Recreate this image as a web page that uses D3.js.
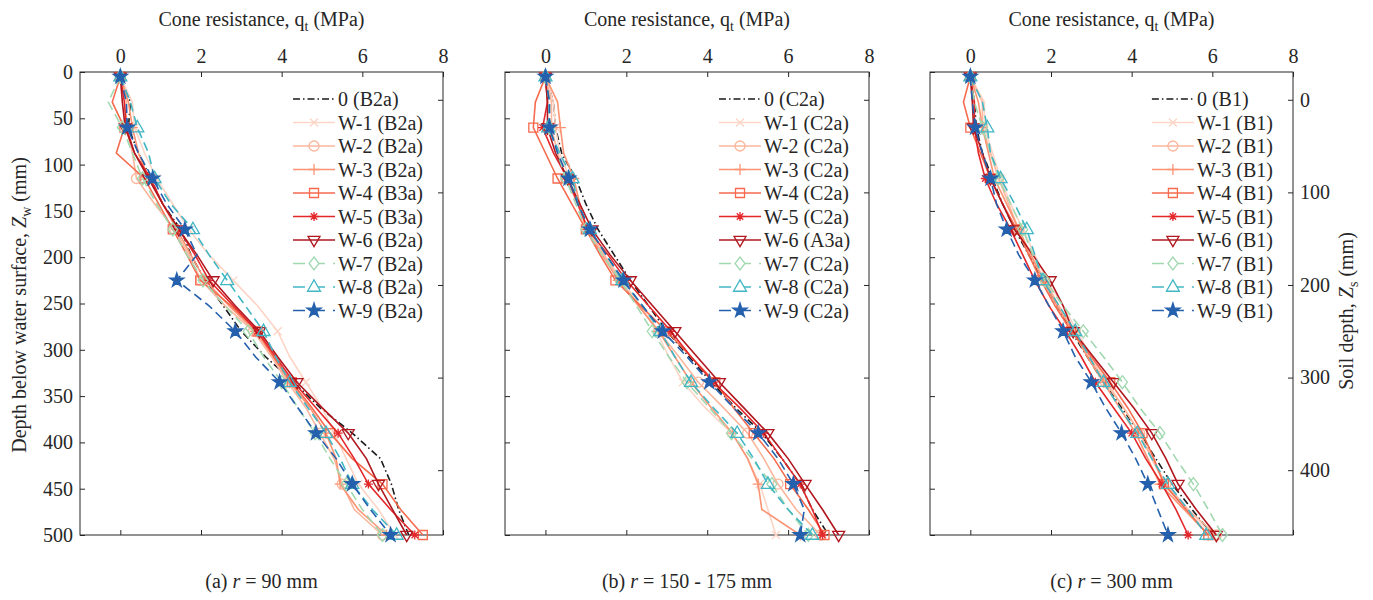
<!DOCTYPE html>
<html>
<head>
<meta charset="utf-8">
<script src="https://cdn.jsdelivr.net/npm/d3@7"></script>
<style>
  body { margin: 0; background: #fff; }
  svg text { font-family: "Liberation Serif", "Times New Roman", serif !important; fill: #262626; }
</style>
</head>
<body>
<svg id="chart" width="1373" height="600"></svg>
<script>
// depth below water surface (mm) at which each profile was read
const depths = [5, 32.5, 60, 87.5, 115, 142.5, 170, 197.5, 225, 252.5, 280, 307.5, 335, 362.5, 390, 417.5, 445, 472.5, 500];

const seriesKeys = ["0", "W-1", "W-2", "W-3", "W-4", "W-5", "W-6", "W-7", "W-8", "W-9"];
const tagsA = ["B2a", "B2a", "B2a", "B2a", "B3a", "B3a", "B2a", "B2a", "B2a", "B2a"];
const tagsB = ["C2a", "C2a", "C2a", "C2a", "C2a", "C2a", "A3a", "C2a", "C2a", "C2a"];
const tagsC = ["B1", "B1", "B1", "B1", "B1", "B1", "B1", "B1", "B1", "B1"];

// cone resistance q_t (MPa), one row per series, r = 90 mm
const qA = [
  [0, 0.25, 0.2, 0.45, 0.75, 1.05, 1.5, 1.75, 2.1, 2.55, 3.0, 3.6, 4.3, 4.95, 5.75, 6.45, 6.72, 6.9, 7.15],
  [0, 0.3, 0.35, 0.6, 0.9, 1.3, 1.7, 2.2, 2.8, 3.4, 3.9, 4.2, 4.6, 5.0, 5.3, 5.6, 5.9, 6.4, 6.8],
  [0, 0.15, 0.15, 0.3, 0.4, 0.85, 1.35, 1.7, 2.0, 2.6, 3.3, 3.75, 4.15, 4.6, 4.95, 5.3, 5.5, 5.8, 6.5],
  [0, 0.2, 0.3, 0.45, 0.7, 1.05, 1.4, 1.75, 2.1, 2.7, 3.35, 3.8, 4.2, 4.7, 5.1, 5.35, 5.45, 5.9, 6.6],
  [0, -0.2, 0.1, -0.1, 0.6, 0.95, 1.3, 1.65, 1.98, 2.75, 3.4, 3.8, 4.25, 4.75, 5.2, 5.75, 6.5, 6.95, 7.5],
  [0, 0.1, 0.15, 0.35, 0.75, 1.05, 1.45, 1.85, 2.2, 2.8, 3.4, 3.85, 4.3, 4.85, 5.4, 5.8, 6.15, 6.7, 7.3],
  [0, 0.05, 0.12, 0.35, 0.7, 1.05, 1.45, 1.9, 2.3, 2.85, 3.45, 3.9, 4.38, 5.0, 5.65, 6.1, 6.4, 6.75, 7.1],
  [0, -0.3, 0.05, 0.3, 0.55, 0.9, 1.3, 1.65, 2.05, 2.6, 3.17, 3.55, 4.0, 4.4, 4.83, 5.2, 5.6, 6.0, 6.5],
  [0, 0.25, 0.42, 0.7, 0.85, 1.25, 1.8, 2.2, 2.65, 3.1, 3.55, 3.85, 4.2, 4.65, 5.1, 5.45, 5.75, 6.25, 6.85],
  [0, 0.15, 0.17, 0.45, 0.8, 1.15, 1.6, 1.9, 1.4, 2.2, 2.85, 3.35, 3.95, 4.4, 4.85, 5.35, 5.75, 6.2, 6.7]
];

// r = 150 - 175 mm
const qB = [
  [0, 0.2, 0.25, 0.4, 0.75, 1.0, 1.3, 1.7, 2.1, 2.55, 3.0, 3.55, 4.1, 4.7, 5.35, 5.85, 6.3, 6.6, 7.0],
  [0, 0.2, 0.25, 0.35, 0.6, 0.8, 1.0, 1.45, 1.9, 2.35, 2.75, 3.05, 3.4, 3.95, 4.6, 5.0, 5.3, 5.5, 5.7],
  [0, 0.15, 0.15, 0.3, 0.5, 0.8, 1.05, 1.45, 1.85, 2.3, 2.8, 3.3, 3.78, 4.4, 5.0, 5.4, 5.75, 6.2, 6.8],
  [0, 0.3, 0.37, 0.45, 0.7, 0.85, 1.0, 1.4, 1.8, 2.3, 2.8, 3.2, 3.6, 4.1, 4.62, 5.0, 5.26, 5.35, 6.3],
  [0, -0.25, -0.3, 0.0, 0.3, 0.65, 1.0, 1.35, 1.73, 2.35, 3.0, 3.6, 4.2, 4.65, 5.15, 5.65, 6.05, 6.5, 6.9],
  [0, 0.05, -0.07, 0.2, 0.55, 0.8, 1.05, 1.55, 2.0, 2.55, 3.1, 3.6, 4.15, 4.8, 5.4, 5.85, 6.3, 6.6, 6.85],
  [0, 0.05, 0.05, 0.25, 0.55, 0.85, 1.15, 1.6, 2.1, 2.65, 3.2, 3.75, 4.3, 4.9, 5.5, 6.0, 6.42, 6.85, 7.25],
  [0, 0.1, 0.1, 0.3, 0.5, 0.75, 1.0, 1.4, 1.85, 2.25, 2.64, 3.05, 3.5, 4.05, 4.6, 5.1, 5.6, 6.0, 6.5],
  [0, 0.1, 0.07, 0.35, 0.67, 0.8, 1.1, 1.5, 1.9, 2.4, 2.84, 3.2, 3.6, 4.15, 4.74, 5.15, 5.5, 6.0, 6.6],
  [0, 0.1, 0.1, 0.3, 0.57, 0.8, 1.1, 1.5, 1.93, 2.4, 2.9, 3.5, 4.05, 4.65, 5.26, 5.75, 6.13, 6.4, 6.3]
];

// r = 300 mm
const qC = [
  [0, 0.1, 0.15, 0.3, 0.55, 0.8, 1.1, 1.45, 1.8, 2.15, 2.5, 2.9, 3.3, 3.75, 4.2, 4.6, 5.0, 5.5, 6.0],
  [0, 0.35, 0.35, 0.55, 0.75, 1.0, 1.3, 1.6, 1.9, 2.3, 2.65, 3.0, 3.4, 3.8, 4.2, 4.5, 4.8, 5.4, 6.0],
  [0, 0.3, 0.3, 0.5, 0.7, 0.95, 1.2, 1.5, 1.85, 2.2, 2.6, 2.95, 3.35, 3.8, 4.2, 4.5, 4.85, 5.4, 6.1],
  [0, 0.2, 0.3, 0.45, 0.6, 0.9, 1.2, 1.5, 1.8, 2.15, 2.55, 2.9, 3.3, 3.7, 4.1, 4.4, 4.7, 5.3, 5.9],
  [0, -0.17, 0.0, 0.25, 0.5, 0.8, 1.15, 1.45, 1.75, 2.1, 2.5, 3.0, 3.47, 3.9, 4.27, 4.55, 4.8, 5.35, 5.9],
  [0, 0.1, 0.1, 0.2, 0.37, 0.65, 1.0, 1.3, 1.6, 1.95, 2.36, 2.75, 3.1, 3.55, 4.0, 4.35, 4.75, 5.1, 5.4],
  [0, 0.05, 0.08, 0.3, 0.5, 0.8, 1.1, 1.55, 1.98, 2.3, 2.55, 3.05, 3.55, 4.05, 4.5, 4.85, 5.15, 5.6, 6.1],
  [0, 0.1, 0.3, 0.5, 0.7, 1.0, 1.3, 1.55, 1.85, 2.3, 2.8, 3.3, 3.77, 4.2, 4.7, 5.1, 5.53, 5.9, 6.25],
  [0, 0.3, 0.42, 0.5, 0.75, 1.1, 1.4, 1.6, 1.8, 2.2, 2.6, 2.95, 3.3, 3.7, 4.14, 4.5, 4.9, 5.4, 5.85],
  [0, 0.05, 0.12, 0.3, 0.5, 0.65, 0.9, 1.2, 1.6, 1.95, 2.3, 2.6, 3.0, 3.35, 3.75, 4.1, 4.4, 4.65, 4.9]
];

const qTicks = [0, 2, 4, 6, 8];
const zwTicks = [0, 50, 100, 150, 200, 250, 300, 350, 400, 450, 500];
const zsTicks = [0, 100, 200, 300, 400];
const soilOffset = 30; // soil surface lies 30 mm below water surface
const captionsLetter = ["(a)", "(b)", "(c)"];
const captionsR = ["90 mm", "150 - 175 mm", "300 mm"];

// styles
const colors = ["#1a1a1a", "#fdd5c6", "#fcb69c", "#fc9474", "#f66a4e", "#e3272a", "#b0171f", "#a1d8b0", "#41b6c4", "#2560ad"];
const dashes = ["7,3,1.5,3", null, null, null, null, null, null, "9,5", "9,5", "9,5"];
const shapes = [null, "x", "o", "+", "s", "*", "v", "d", "^", "p"];

function markerPath(type) {
  switch (type) {
    case "x": { const s = 4; return `M${-s},${-s}L${s},${s}M${-s},${s}L${s},${-s}`; }
    case "o": { const s = 5; return `M${s},0A${s},${s} 0 1,1 ${-s},0A${s},${s} 0 1,1 ${s},0Z`; }
    case "+": { const s = 5.5; return `M${-s},0L${s},0M0,${-s}L0,${s}`; }
    case "s": { const s = 4.5; return `M${-s},${-s}H${s}V${s}H${-s}Z`; }
    case "*": { const s = 4.5, t = 3.2; return `M${-s},0L${s},0M0,${-s}L0,${s}M${-t},${-t}L${t},${t}M${-t},${t}L${t},${-t}`; }
    case "v": { const s = 6; return `M${-s},${-s * 0.6}L${s},${-s * 0.6}L0,${s * 1.1}Z`; }
    case "d": { const s = 5; return `M0,${-s * 1.3}L${s},0L0,${s * 1.3}L${-s},0Z`; }
    case "^": { const s = 6.5; return `M0,${-s * 1.1}L${s},${s * 0.65}L${-s},${s * 0.65}Z`; }
    case "p": return d3.symbol(d3.symbolStar, 62)();
  }
  return null;
}

const svg = d3.select("#chart");
const plotTop = 72, plotBottom = 535;
const panels = [
  { x0: 80, x1: 443, q: qA, tags: tagsA },
  { x0: 505, x1: 869, q: qB, tags: tagsB },
  { x0: 930, x1: 1293, q: qC, tags: tagsC }
];
const y = d3.scaleLinear().domain([0, 500]).range([plotTop, plotBottom]);
const ys = d3.scaleLinear().domain([-soilOffset, 500 - soilOffset]).range([plotTop, plotBottom]);

panels.forEach((p, pi) => {
  const x = d3.scaleLinear().domain([-1, 8]).range([p.x0, p.x1]);
  const g = svg.append("g");

  // axes (ticks inward)
  const styleAxis = sel => {
    sel.attr("font-family", null);
    sel.select(".domain").remove();
    sel.selectAll(".tick line").attr("stroke", "#262626");
    sel.selectAll(".tick text").attr("font-size", 20).attr("fill", "#262626");
  };
  g.append("g").attr("transform", `translate(0,${plotTop})`)
    .call(d3.axisTop(x).tickValues(qTicks).tickSizeInner(-5).tickSizeOuter(0).tickPadding(9))
    .call(styleAxis);
  g.append("g").attr("transform", `translate(0,${plotBottom})`)
    .call(d3.axisBottom(x).tickValues(qTicks).tickSizeInner(-5).tickSizeOuter(0).tickFormat(""))
    .call(styleAxis);
  const left = d3.axisLeft(y).tickValues(zwTicks).tickSizeInner(-5).tickSizeOuter(0).tickPadding(7);
  if (pi > 0) left.tickFormat("");
  g.append("g").attr("transform", `translate(${p.x0},0)`).call(left).call(styleAxis);
  const right = d3.axisRight(ys).tickValues(zsTicks).tickSizeInner(-5).tickSizeOuter(0).tickPadding(7);
  if (pi < 2) right.tickFormat("");
  g.append("g").attr("transform", `translate(${p.x1},0)`).call(right).call(styleAxis);

  g.append("rect").attr("x", p.x0).attr("y", plotTop)
    .attr("width", p.x1 - p.x0).attr("height", plotBottom - plotTop)
    .attr("fill", "none").attr("stroke", "#262626").attr("stroke-width", 1);

  // profiles
  const line = d3.line().x(d => x(d[0])).y(d => y(d[1]));
  p.q.forEach((vals, si) => {
    const pts = vals.map((v, i) => [v, depths[i]]);
    g.append("path").datum(pts).attr("d", line)
      .attr("fill", "none").attr("stroke", colors[si]).attr("stroke-width", 1.6)
      .attr("stroke-dasharray", dashes[si]);
    if (shapes[si]) {
      g.append("g").selectAll("path").data(pts.filter((d, i) => i % 2 === 0)).join("path")
        .attr("transform", d => `translate(${x(d[0])},${y(d[1])})`)
        .attr("d", markerPath(shapes[si]))
        .attr("fill", shapes[si] === "p" ? colors[si] : "none")
        .attr("stroke", colors[si]).attr("stroke-width", 1.3);
    }
  });

  // legend
  const lg = g.append("g");
  const labels = seriesKeys.map((k, i) => `${k} (${p.tags[i]})`);
  const tmp = lg.append("text").attr("font-size", 20).text(labels[9]);
  const tw = tmp.node().getComputedTextLength();
  tmp.remove();
  const lx = p.x1 - 20 - 45 - tw;
  labels.forEach((lab, i) => {
    const ly = 99 + i * 23.5;
    lg.append("line").attr("x1", lx).attr("x2", lx + 42).attr("y1", ly).attr("y2", ly)
      .attr("stroke", colors[i]).attr("stroke-width", 1.6)
      .attr("stroke-dasharray", dashes[i] ? (i === 0 ? "7,3,1.5,3" : "12,8") : null);
    if (shapes[i]) {
      lg.append("path").attr("transform", `translate(${lx + 21},${ly})`)
        .attr("d", markerPath(shapes[i]))
        .attr("fill", shapes[i] === "p" ? colors[i] : (shapes[i] === "d" || shapes[i] === "^" ? "#fff" : "none"))
        .attr("stroke", colors[i]).attr("stroke-width", 1.3);
    }
    lg.append("text").attr("x", lx + 45).attr("y", ly).attr("dy", "0.35em")
      .attr("font-size", 20).text(lab);
  });

  // top title
  const cx = (p.x0 + p.x1) / 2;
  const t = g.append("text").attr("x", cx).attr("y", 26).attr("text-anchor", "middle").attr("font-size", 20);
  t.append("tspan").text("Cone resistance, q");
  t.append("tspan").attr("font-size", 14).attr("dy", 5).text("t");
  t.append("tspan").attr("dy", -5).text(" (MPa)");

  // caption
  const c = g.append("text").attr("x", cx).attr("y", 588).attr("text-anchor", "middle").attr("font-size", 20);
  c.append("tspan").text(captionsLetter[pi] + " ");
  c.append("tspan").attr("font-style", "italic").text("r");
  c.append("tspan").text(" = " + captionsR[pi]);
});

// axis titles
const yl = svg.append("text").attr("transform", "translate(26,305) rotate(-90)")
  .attr("text-anchor", "middle").attr("font-size", 20);
yl.append("tspan").text("Depth below water surface, ");
yl.append("tspan").attr("font-style", "italic").text("Z");
yl.append("tspan").attr("font-size", 14).attr("dy", 5).text("w");
yl.append("tspan").attr("dy", -5).text(" (mm)");

const yr = svg.append("text").attr("transform", "translate(1353,311) rotate(-90)")
  .attr("text-anchor", "middle").attr("font-size", 20);
yr.append("tspan").text("Soil depth, ");
yr.append("tspan").attr("font-style", "italic").text("Z");
yr.append("tspan").attr("font-size", 14).attr("dy", 5).text("s");
yr.append("tspan").attr("dy", -5).text(" (mm)");
</script>
</body>
</html>
